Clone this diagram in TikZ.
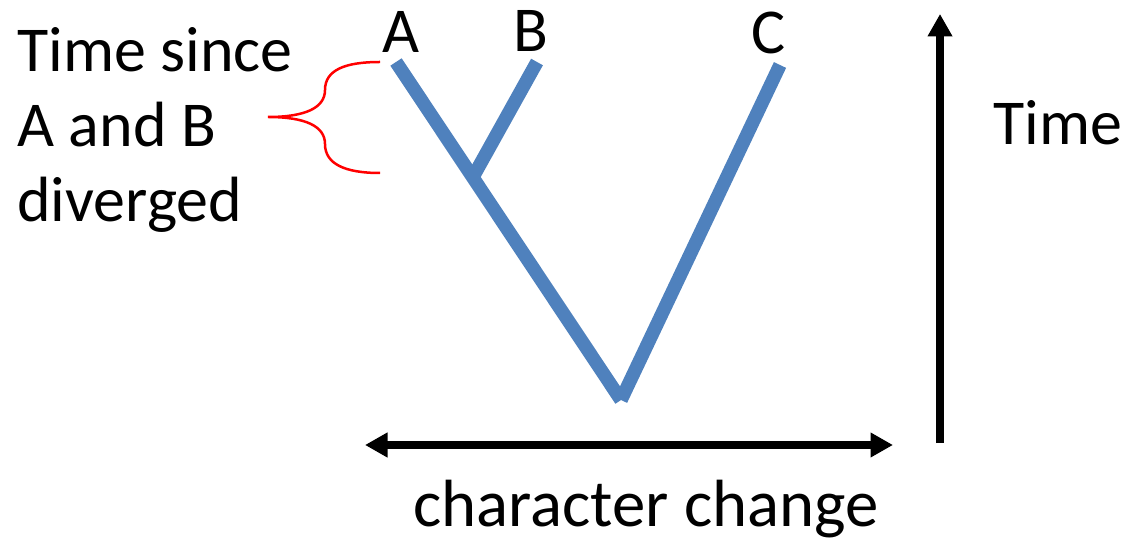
\documentclass[tikz,border=0pt]{standalone}
\usepackage{fontspec}
\setmainfont{Carlito}
\usetikzlibrary{arrows.meta}
\definecolor{branchblue}{HTML}{4F81BD}
\definecolor{bracered}{HTML}{FF0000}
\tikzset{
  branch/.style={line width=0.27cm, draw=branchblue, line cap=butt},
  axis/.style={-{Triangle[length=0.45cm,width=0.47cm]}, line width=0.16cm, draw=black},
  twoway/.style={{Triangle[length=0.45cm,width=0.47cm]}-{Triangle[length=0.45cm,width=0.47cm]}, line width=0.16cm, draw=black},
  brace/.style={draw=bracered, line width=0.05cm},
  tiplabel/.style={font=\fontsize{36.4}{43}\selectfont, inner sep=0pt, anchor=base},
  bigtext/.style={font=\fontsize{36.4}{42.7}\selectfont, inner sep=0pt}
}

\begin{document}
\begin{tikzpicture}[x=0.02cm, y=-0.02cm]
\useasboundingbox (0,0) rectangle (1124,543);
% species labels and branch tips
\node[tiplabel] (labA) at (401,53) {A};
\node[tiplabel] (labB) at (531,52) {B};
\node[tiplabel] (labC) at (769,54) {C};
\coordinate (tipA) at (396,62);
\coordinate (tipB) at (537,62);
\coordinate (tipC) at (780,65);
\coordinate (fork) at (473,177);
\coordinate (root) at (621,400);
\draw[branch] (tipA) -- (root);
\draw[branch] (tipC) -- (root);
\draw[branch] (tipB) -- (fork);
% brace
\node[bigtext, align=left, anchor=north west] (since) at (17,27) {Time since\\A and B\\diverged};
\coordinate (braceTop) at (380,62);
\coordinate (braceTip) at (268,117);
\coordinate (braceBot) at (380,173);
\draw[brace] (braceTop) .. controls (345,62) and (325,70) .. (325,90)
  .. controls (325,108) and (305,117) .. (braceTip)
  .. controls (305,117) and (325,126) .. (325,144)
  .. controls (325,164) and (345,173) .. (braceBot);
% axes
\coordinate (chLeft) at (365,445);
\coordinate (chRight) at (893,445);
\draw[twoway] (chLeft) -- (chRight);
\node[bigtext, font=\fontsize{38}{44}\selectfont, anchor=base] (chlabel) at (646,526) {character change};
\coordinate (tBase) at (940,443);
\coordinate (tTop) at (940,14);
\draw[axis] (tBase) -- (tTop);
\node[bigtext, anchor=base west] (tlabel) at (993,145) {Time};
\end{tikzpicture}
\end{document}
